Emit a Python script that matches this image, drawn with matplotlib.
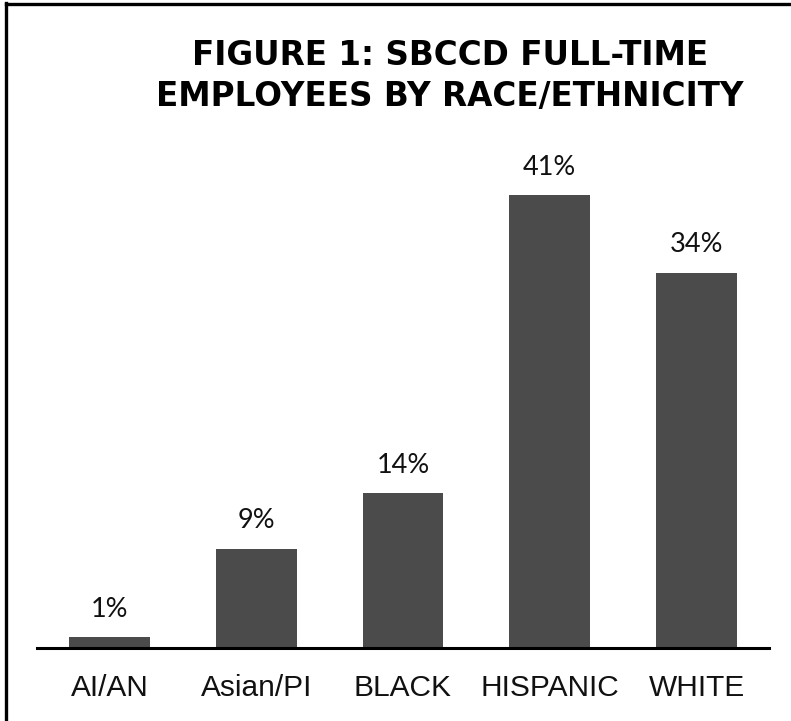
import matplotlib
matplotlib.use("Agg")
import matplotlib.pyplot as plt
from matplotlib.lines import Line2D

categories = ["AI/AN", "Asian/PI", "BLACK", "HISPANIC", "WHITE"]
shares = [1, 9, 14, 41, 34]
value_labels = ["1%", "9%", "14%", "41%", "34%"]

W, H = 791, 721
fig = plt.figure(figsize=(W / 100, H / 100), dpi=100)
fig.patch.set_facecolor("white")

# plot area: baseline at y=648 px, spanning x=37..769 px
ax = fig.add_axes([37 / W, (H - 648) / H, 732 / W, 478 / H])
x = list(range(len(categories)))
ax.bar(x, shares, width=0.55, color="#4b4b4b", zorder=2)
ax.set_xlim(-0.493, len(categories) - 1 + 0.493)
ax.set_ylim(0, 43.3)

for xi, v, lab in zip(x, shares, value_labels):
    ax.annotate(lab, (xi, v), xytext=(0, 11), textcoords="offset points",
                ha="center", va="bottom", fontsize=19.5, family="Lato",
                color="#111111")

for s in ["top", "right", "left"]:
    ax.spines[s].set_visible(False)
ax.spines["bottom"].set_linewidth(2.2)
ax.spines["bottom"].set_color("black")
ax.set_yticks([])
ax.set_xticks(x)
ax.set_xticklabels(categories, fontsize=21.5, family="Liberation Sans",
                   color="#111111")
ax.tick_params(axis="x", length=0, pad=19)

fig.text(450 / W, 1 - 39 / H, "FIGURE 1: SBCCD FULL-TIME\nEMPLOYEES BY RACE/ETHNICITY",
         ha="center", va="top", fontsize=23.5, family="DejaVu Sans",
         fontweight="bold", linespacing=1.32, color="black")

# frame lines along the top and left edges
fig.add_artist(Line2D([5.5 / W, 1], [1 - 4 / H, 1 - 4 / H], transform=fig.transFigure,
                      color="black", linewidth=2.4))
fig.add_artist(Line2D([6.5 / W, 6.5 / W], [0, 1 - 3 / H], transform=fig.transFigure,
                      color="black", linewidth=2.4))

fig.savefig("out.png", dpi=100, facecolor="white")
